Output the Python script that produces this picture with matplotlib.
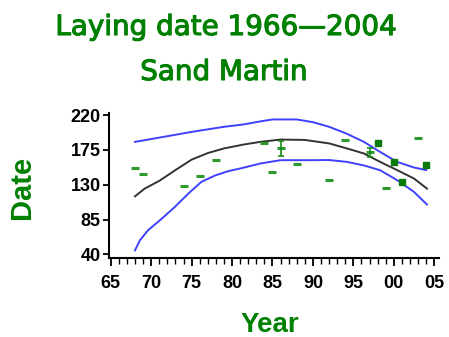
import matplotlib
matplotlib.use("Agg")
import matplotlib.pyplot as plt
import matplotlib.patheffects as pe
from matplotlib.ticker import MultipleLocator, FixedLocator

# Observed mean laying dates (dash markers)
obs_years = [1968, 1969, 1974, 1976, 1978, 1984, 1985, 1986, 1988, 1992, 1994, 1997, 1999, 2003]
obs_dates = [152, 144.5, 128.5, 141.5, 162, 184, 146, 177, 157, 136, 188, 172.5, 126, 190.5]
# Observations drawn as small squares
sq_years = [1998, 2000, 2001, 2004]
sq_dates = [183.5, 159.5, 133.5, 155]
# Error bars
err_years = [1986, 1997]
err_means = [177, 172]
err_sizes = [10, 5.5]

# Fitted trend curve and confidence band
fit_years = [1968, 1969.2, 1971, 1973, 1975, 1977, 1979, 1981.4, 1983.5, 1986, 1989, 1990, 1992,
             1994.2, 1996.3, 1998.3, 2000.4, 2002.5, 2004.1]
fit_dates = [115, 125, 135, 149, 162.5, 171, 177, 182, 185.5, 188.5, 188, 186.5, 183.5,
             177, 170.5, 159.6, 149, 138, 125]
up_years = [1968, 1971, 1975, 1979, 1981.4, 1983.5, 1985, 1988, 1990, 1992, 1994.2, 1996.3,
            1998.3, 2000.4, 2002.5, 2004]
up_dates = [185.5, 191, 198.4, 205, 208, 212, 214.5, 214.5, 211, 205, 196, 185.5,
            172.5, 159.6, 152.3, 149]
lo_years = [1968, 1968.6, 1969.6, 1971.3, 1972.9, 1974.6, 1976.2, 1977.9, 1979.5, 1981.4, 1983.5,
            1986, 1990, 1992, 1994.2, 1996.3, 1998.3, 2000.4, 2002.5, 2004.1]
lo_dates = [45, 58, 71, 86, 101, 118.6, 133.7, 142, 147.5, 152, 157.5,
            161.8, 161.8, 162, 159.6, 155, 148.8, 136, 120.7, 104.4]

x_ticks = [1965, 1970, 1975, 1980, 1985, 1990, 1995, 2000, 2005]
x_labels = ["65", "70", "75", "80", "85", "90", "95", "00", "05"]
y_ticks = [40, 85, 130, 175, 220]

title1 = "Laying date 1966\u20142004"
title2 = "Sand Martin"

GREEN = "#008000"
BLUE = "#4040ff"
DARK = "#333333"
FONT = "Liberation Sans"

fig = plt.figure(figsize=(4.49, 3.37), dpi=100)
ax = fig.add_axes([0.243, 0.234, 0.735, 0.431])

ax.plot(up_years, up_dates, color=BLUE, lw=1.4)
ax.plot(lo_years, lo_dates, color=BLUE, lw=1.4)
ax.plot(fit_years, fit_dates, color=DARK, lw=1.4)

ax.plot(obs_years, obs_dates, ls="none", marker="_", ms=6, mew=2.2, color="#2a9a2a")
ax.plot(sq_years, sq_dates, ls="none", marker="s", ms=4, color="#0a7a0a")
ax.errorbar(err_years, err_means, yerr=err_sizes, fmt="none", ecolor="#1a8a1a",
            elinewidth=1.2, capsize=2.5, capthick=1.2)

ax.set_xlim(1964.8, 2005.6)
ax.set_ylim(35, 223)

ax.xaxis.set_major_locator(FixedLocator(x_ticks))
ax.set_xticklabels(x_labels)
ax.xaxis.set_minor_locator(MultipleLocator(1))
ax.set_yticks(y_ticks)

for s in ["top", "right"]:
    ax.spines[s].set_visible(False)
for s in ["left", "bottom"]:
    ax.spines[s].set_linewidth(1.5)
    ax.spines[s].set_color("black")

ax.tick_params(axis="x", which="major", length=6, width=1.3, direction="out", pad=6)
ax.tick_params(axis="x", which="minor", length=4, width=1.0, direction="out")
ax.tick_params(axis="y", which="major", length=4, width=1.3, direction="out", pad=2)
for lab in ax.get_xticklabels() + ax.get_yticklabels():
    lab.set_fontfamily(FONT)
    lab.set_fontsize(13)
    lab.set_fontweight("bold")

fig.text(270 / 449, 1 - 325 / 337, "Year", ha="center", va="center", color=GREEN,
         fontsize=20, fontweight="bold", family=FONT)
fig.text(22 / 449, 1 - 187 / 337, "Date", ha="center", va="center", color=GREEN, rotation=90,
         fontsize=21, fontweight="bold", family=FONT)

thick = [pe.withStroke(linewidth=0.8, foreground=GREEN)]
fig.text(226 / 449, 1 - 27 / 337, title1, ha="center", va="center", color=GREEN, fontsize=20,
         family="DejaVu Sans", path_effects=thick)
fig.text(224 / 449, 1 - 72 / 337, title2, ha="center", va="center", color=GREEN, fontsize=20,
         family="DejaVu Sans", path_effects=thick)

fig.savefig("out.png", dpi=100)
